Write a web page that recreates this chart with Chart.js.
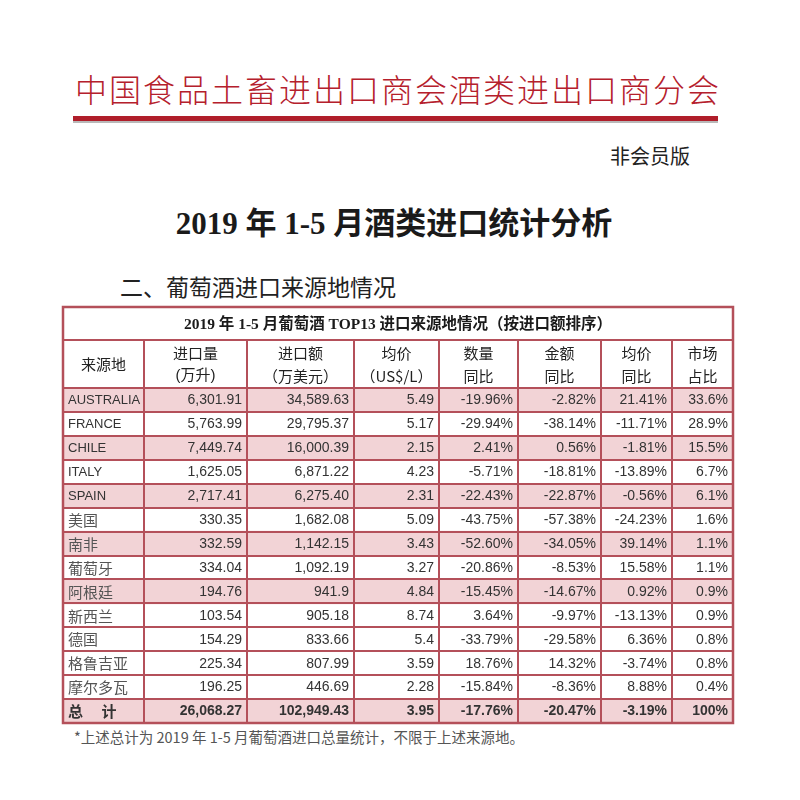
<!DOCTYPE html>
<html>
<head>
<meta charset="utf-8">
<script src="https://cdn.jsdelivr.net/npm/chart.js@4.4.1/dist/chart.umd.min.js"></script>
<style>
  html, body { margin: 0; padding: 0; background: #fff; }
  body { width: 800px; height: 800px; position: relative; overflow: hidden;
         font-family: "Noto Sans CJK SC", "Liberation Sans", sans-serif; }
  .abs { position: absolute; white-space: nowrap; }
  #org { left: 0; width: 796px; top: 66px; text-align: center; font-size: 32px;
         letter-spacing: 2px; color: #b5202c; font-weight: 300; line-height: 44px; }
  #redline { left: 73px; top: 116px; width: 645px; height: 5px; background: #b01e2a;
             box-shadow: 0 2px 0 #b9b9b9; }
  #member { left: 610px; top: 143px; font-size: 20px; color: #222; line-height: 26px; }
  #title { left: 0; width: 788px; top: 203px; text-align: center; font-size: 31px; line-height: 42px;
           font-weight: 700; color: #1a1a1a; font-family: "Liberation Serif", "Noto Sans CJK SC", serif; }
  #sub { left: 120px; top: 270px; font-size: 23px; color: #222; font-weight: 400; line-height: 32px; }
  #note { left: 74px; top: 727px; font-size: 14.5px; color: #555; line-height: 20px; }
  #tbl { position: absolute; left: 60px; top: 304px; }
</style>
</head>
<body>
<div class="abs" id="org">中国食品土畜进出口商会酒类进出口商分会</div>
<div class="abs" id="redline"></div>
<div class="abs" id="member">非会员版</div>
<div class="abs" id="title">2019 年 1-5 月酒类进口统计分析</div>
<div class="abs" id="sub">二、葡萄酒进口来源地情况</div>
<canvas id="tbl" width="676" height="422"></canvas>
<div class="abs" id="note">*上述总计为 2019 年 1-5 月葡萄酒进口总量统计，不限于上述来源地。</div>

<script>
// ===== 表格数据 =====
const tableTitle = "2019 年 1-5 月葡萄酒 TOP13 进口来源地情况（按进口额排序）";
const headTop = ["来源地", "进口量", "进口额", "均价", "数量", "金额", "均价", "市场"];
const headBottom = ["", "(万升)", "（万美元）", "（US$/L）", "同比", "同比", "同比", "占比"];

const countries = ["AUSTRALIA", "FRANCE", "CHILE", "ITALY", "SPAIN", "美国", "南非",
  "葡萄牙", "阿根廷", "新西兰", "德国", "格鲁吉亚", "摩尔多瓦"];
const volume = ["6,301.91", "5,763.99", "7,449.74", "1,625.05", "2,717.41", "330.35", "332.59",
  "334.04", "194.76", "103.54", "154.29", "225.34", "196.25"];
const amount = ["34,589.63", "29,795.37", "16,000.39", "6,871.22", "6,275.40", "1,682.08", "1,142.15",
  "1,092.19", "941.9", "905.18", "833.66", "807.99", "446.69"];
const price = ["5.49", "5.17", "2.15", "4.23", "2.31", "5.09", "3.43", "3.27", "4.84", "8.74", "5.4", "3.59", "2.28"];
const volumeYoY = ["-19.96%", "-29.94%", "2.41%", "-5.71%", "-22.43%", "-43.75%", "-52.60%",
  "-20.86%", "-15.45%", "3.64%", "-33.79%", "18.76%", "-15.84%"];
const amountYoY = ["-2.82%", "-38.14%", "0.56%", "-18.81%", "-22.87%", "-57.38%", "-34.05%",
  "-8.53%", "-14.67%", "-9.97%", "-29.58%", "14.32%", "-8.36%"];
const priceYoY = ["21.41%", "-11.71%", "-1.81%", "-13.89%", "-0.56%", "-24.23%", "39.14%",
  "15.58%", "0.92%", "-13.13%", "6.36%", "-3.74%", "8.88%"];
const share = ["33.6%", "28.9%", "15.5%", "6.7%", "6.1%", "1.6%", "1.1%", "1.1%", "0.9%", "0.9%", "0.8%", "0.8%", "0.4%"];
const totalRow = ["总\u3000 计", "26,068.27", "102,949.43", "3.95", "-17.76%", "-20.47%", "-3.19%", "100%"];

// ===== 레이아웃 (표 내부 좌표, 1단위 = 1px) =====
const W = 670, H = 416;
const colEdges = [0, 81, 184, 291, 376, 455, 538, 609, 670];
const TITLE_H = 33, HEAD_H = 48;
const nRows = countries.length + 1; // + 总计
const ROW_H = (H - TITLE_H - HEAD_H) / nRows;
const rowTop = (i) => TITLE_H + HEAD_H + i * ROW_H;
const shadedRows = [0, 2, 4, 6, 8, nRows - 1];

const LINE = "#b4505a";
const SHADE = "#f2d3d6";
const TEXT = "#333";
const LATIN = '"Liberation Sans", "Noto Sans CJK SC", sans-serif';
const CJK = '"Noto Sans CJK SC", "Liberation Sans", sans-serif';

// 행 데이터: 열 순서대로
const columns = [countries, volume, amount, price, volumeYoY, amountYoY, priceYoY, share];

const tablePlugin = {
  id: "tableCells",
  afterDatasetsDraw(chart) {
    const { ctx } = chart;
    const px = (v) => chart.scales.x.getPixelForValue(v);
    const py = (v) => chart.scales.y.getPixelForValue(v);
    ctx.save();
    ctx.textBaseline = "middle";

    // 표 제목
    ctx.fillStyle = "#1a1a1a";
    ctx.textAlign = "center";
    ctx.font = 'bold 15.5px "Liberation Serif", "Noto Sans CJK SC", serif';
    ctx.fillText(tableTitle, px(W / 2), py(TITLE_H / 2 + 1));

    // 헤더
    ctx.fillStyle = "#222";
    headTop.forEach((t, c) => {
      const cx = px((colEdges[c] + colEdges[c + 1]) / 2);
      ctx.font = "15px " + CJK;
      if (!headBottom[c]) {
        ctx.fillText(t, cx, py(TITLE_H + HEAD_H / 2));
      } else {
        ctx.fillText(t, cx, py(TITLE_H + 13));
        ctx.font = headBottom[c].startsWith("(") ? "15px " + LATIN : "15px " + CJK;
        ctx.fillText(headBottom[c], cx, py(TITLE_H + 36));
      }
    });

    // 데이터 행
    const drawRow = (cells, i, bold) => {
      const cy = py(rowTop(i) + ROW_H / 2 + 0.5);
      cells.forEach((txt, c) => {
        ctx.fillStyle = TEXT;
        if (c === 0) {
          ctx.textAlign = "left";
          const cjk = /[\u4e00-\u9fff]/.test(txt);
          ctx.font = (bold ? "bold " : "") + (cjk ? "15px " + CJK : "13px " + LATIN);
          if (cjk && !bold) ctx.fillStyle = "#555";
          ctx.fillText(txt, px(colEdges[0] + 5), cy);
        } else {
          ctx.textAlign = "right";
          ctx.font = (bold ? "bold " : "") + "14px " + LATIN;
          ctx.fillText(txt, px(colEdges[c + 1] - 5), cy);
        }
      });
    };
    countries.forEach((_, i) => drawRow(columns.map((col) => col[i]), i, false));
    drawRow(totalRow, nRows - 1, true);

    // 격자선
    ctx.strokeStyle = LINE;
    ctx.lineWidth = 2;
    ctx.beginPath();
    const hLines = [TITLE_H, TITLE_H + HEAD_H];
    for (let i = 1; i < nRows; i++) hLines.push(rowTop(i));
    hLines.forEach((v) => {
      ctx.moveTo(px(0), Math.round(py(v)));
      ctx.lineTo(px(W), Math.round(py(v)));
    });
    colEdges.slice(1, -1).forEach((v) => {
      ctx.moveTo(Math.round(px(v)), py(TITLE_H));
      ctx.lineTo(Math.round(px(v)), py(H));
    });
    ctx.stroke();
    ctx.lineWidth = 2.5;
    ctx.strokeRect(px(0), py(0), px(W) - px(0), py(H) - py(0));
    ctx.restore();
  },
};

new Chart(document.getElementById("tbl"), {
  type: "bar",
  data: {
    datasets: [
      {
        data: shadedRows.map((i) => ({ x: [0, W], y: rowTop(i) + ROW_H / 2 })),
        backgroundColor: SHADE,
        borderWidth: 0,
        barThickness: ROW_H + 1,
        grouped: false,
      },
    ],
  },
  options: {
    indexAxis: "y",
    responsive: false,
    animation: false,
    layout: { padding: 3 },
    plugins: { legend: { display: false }, tooltip: { enabled: false } },
    scales: {
      x: { type: "linear", min: 0, max: W, offset: false, display: false },
      y: { type: "linear", min: 0, max: H, reverse: true, offset: false, display: false },
    },
  },
  plugins: [tablePlugin],
});
</script>
</body>
</html>
